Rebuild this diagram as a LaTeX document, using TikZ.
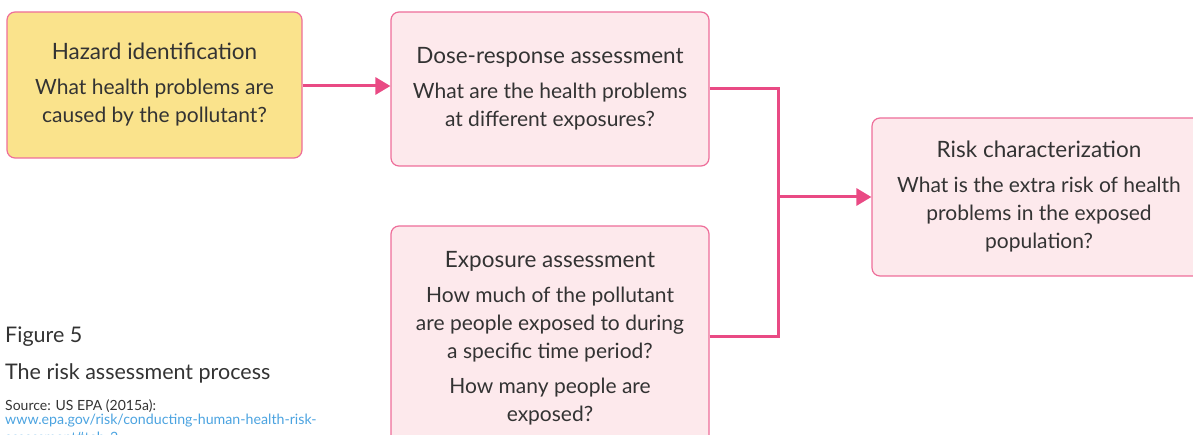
\documentclass[tikz,border=0pt]{standalone}
\usepackage{fontspec}
\setmainfont{Lato}
\usetikzlibrary{arrows.meta}
\definecolor{edge}{HTML}{EE6E9A}
\definecolor{arr}{HTML}{E94A84}
\definecolor{pinkfill}{HTML}{FDE9EC}
\definecolor{yellowfill}{HTML}{FAE38C}
\definecolor{txt}{HTML}{333333}
\definecolor{link}{HTML}{4BA3E0}
\tikzset{
  box/.style={draw=edge, line width=1.2pt, rounded corners=8pt, align=center,
    text=txt, font=\fontsize{21}{28}\selectfont, inner sep=0pt},
  conn/.style={draw=arr, line width=3pt},
  arrowtip/.style={-{Triangle[length=15pt,width=17pt]}},
  captxt/.style={anchor=base west, text=txt, inner sep=0pt}
}
\newcommand{\ttl}[1]{{\fontsize{22.5}{28}\selectfont #1}}
\begin{document}
\begin{tikzpicture}[x=1pt,y=1pt]
\useasboundingbox (0,0) rectangle (1193,-435);
\clip (0,0) rectangle (1193,-435);
\node[box, fill=yellowfill, minimum width=295pt, minimum height=146pt] (haz) at (154.5,-85)
  {\ttl{Hazard identification}\\[7pt]What health problems are\\caused by the pollutant?};
\node[box, fill=pinkfill, minimum width=318pt, minimum height=154pt] (dose) at (550,-89)
  {\ttl{Dose-response assessment}\\[7pt]What are the health problems\\at different exposures?};
\node[box, fill=pinkfill, minimum width=318pt, minimum height=224pt] (expo) at (550,-338)
  {\ttl{Exposure assessment}\\[7pt]How much of the pollutant\\are people exposed to during\\a specific time period?\\[7pt]How many people are\\exposed?};
\node[box, fill=pinkfill, minimum width=334pt, minimum height=158pt] (risk) at (1039,-197)
  {\ttl{Risk characterization}\\[7pt]What is the extra risk of health\\problems in the exposed\\population?};
\coordinate (junc) at (778,-197);
\draw[conn, arrowtip] (haz.east |- 0,-86) -- (dose.west |- 0,-86);
\draw[conn] (dose.east) -| (junc);
\draw[conn] ([yshift=2pt]expo.east) -| (junc);
\draw[conn, arrowtip] (junc) -- (risk.west);
\node[captxt, font=\fontsize{21.5}{24}\selectfont] (fig) at (5,-342) {Figure 5};
\node[captxt, font=\fontsize{21.5}{24}\selectfont] (title) at (5,-379) {The risk assessment process};
\node[captxt, font=\fontsize{14}{16}\selectfont] (src) at (5,-410) {Source: US EPA (2015a):};
\node[captxt, font=\fontsize{14.2}{16}\selectfont, text=link] (url1) at (5,-424) {www.epa.gov/risk/conducting-human-health-risk-};
\node[captxt, font=\fontsize{14.2}{16}\selectfont, text=link] (url2) at (5,-442) {assessment\#tab-2};
\end{tikzpicture}
\end{document}
